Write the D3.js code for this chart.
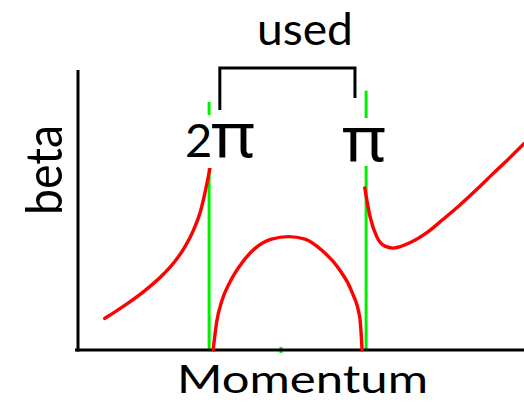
<!DOCTYPE html>
<html>
<head>
<meta charset="utf-8">
<script src="https://cdn.jsdelivr.net/npm/d3@7"></script>
<style>
html,body{margin:0;padding:0;background:#fff;}
svg{display:block;}
</style>
</head>
<body>
<svg id="chart" width="524" height="404"></svg>
<script>
// ---- data (momentum, beta), arbitrary units 0..100 ----
const leftBranch = [
  [6.0,11.3],[8.3,13.6],[11.3,16.8],[15.0,21.2],[18.8,26.5],[21.7,31.6],
  [24.0,36.9],[25.9,42.8],[27.4,49.2],[28.5,56.4],[29.6,65.0]
];
const middleArch = [
  [30.3,0],[31.1,10.1],[32.2,17.3],[34.1,24.4],[36.7,31.0],[39.7,36.3],
  [43.4,39.6],[47.2,40.5],[50.9,39.6],[54.6,35.7],[58.4,29.2],[61.4,20.8],
  [63.2,11.3],[63.7,0]
];
const rightBranch = [
  [64.3,57.9],[65.5,47.5],[67.0,40.4],[68.8,37.1],[70.6,36.4],[74.4,38.3],
  [78.3,42.0],[81.8,46.6],[85.7,51.9],[89.5,57.5],[93.0,62.9],[96.9,68.8],[100,73.7]
];
// vertical resonance markers: momentum position and top (beta units)
const markerX = [29.4, 64.6];
const markerTop = [88.6, 92.6];
const markerLabels = ["2π", "π"];
const centerTickX = 45.5;
// "used" bracket (momentum range and leg bottoms in beta units)
const bracketX = [31.8, 62.1];
const bracketBottom = [85.7, 90.0];
const bracketTop = 100.7;
const xTitle = "Momentum", yTitle = "beta", bracketTitle = "used";

// ---- scales ----
const svg = d3.select("#chart");
const x = d3.scaleLinear().domain([0,100]).range([78,524]);
const y = d3.scaleLinear().domain([0,100]).range([350,70]);

const line = d3.line().x(d=>x(d[0])).y(d=>y(d[1])).curve(d3.curveMonotoneX);

// green markers
markerX.forEach((mx,i)=>{
  svg.append("line").attr("x1",x(mx)).attr("x2",x(mx))
    .attr("y1",y(markerTop[i])).attr("y2",y(0))
    .attr("stroke","#00f000").attr("stroke-width",3);
});
svg.append("line").attr("x1",x(centerTickX)).attr("x2",x(centerTickX))
  .attr("y1",y(0)-3).attr("y2",y(0)+3)
  .attr("stroke","#00f000").attr("stroke-width",3);

// axes
svg.append("line").attr("x1",x(0)).attr("x2",x(0)).attr("y1",y(100)).attr("y2",y(0)+1.5)
  .attr("stroke","#000").attr("stroke-width",3);
svg.append("line").attr("x1",x(0)-3).attr("x2",x(100)).attr("y1",y(0)).attr("y2",y(0))
  .attr("stroke","#000").attr("stroke-width",3);

// red curves
[leftBranch, middleArch, rightBranch].forEach(d=>{
  svg.append("path").attr("d",line(d)).attr("fill","none")
    .attr("stroke","#ff0000").attr("stroke-width",3.4).attr("stroke-linecap","round");
});

// labels with white backgrounds (break the green lines)
const labelDefs = [
  {twoX:185, piX:211, base:157, gapTop:115, gapBot:168},
  {twoX:null, piX:342, base:161, gapTop:118, gapBot:166}
];
labelDefs.forEach((L,i)=>{
  const g = svg.append("g");
  const rect = g.append("rect").attr("fill","#fff");
  let x0 = L.piX;
  if (markerLabels[i].startsWith("2")) {
    g.append("text").attr("x",L.twoX).attr("y",L.base)
      .attr("font-family","Lato, 'DejaVu Sans', sans-serif").attr("font-size",47)
      .attr("fill","#000").text("2");
    x0 = L.twoX;
  }
  g.append("text").attr("x",L.piX).attr("y",L.base)
    .attr("font-family","'Noto Sans', sans-serif").attr("font-size",62)
    .attr("textLength",44).attr("lengthAdjust","spacingAndGlyphs")
    .attr("fill","#000").text("π");
  rect.attr("x",x0-2).attr("y",L.gapTop).attr("width",L.piX+46-x0).attr("height",L.gapBot-L.gapTop);
});

// bracket
svg.append("path")
  .attr("d",`M${x(bracketX[0])},${y(bracketBottom[0])}V${y(bracketTop)}H${x(bracketX[1])}V${y(bracketBottom[1])}`)
  .attr("fill","none").attr("stroke","#000").attr("stroke-width",3);

// titles
svg.append("text").attr("x",257).attr("y",45)
  .attr("font-family","Lato, sans-serif").attr("font-size",45)
  .attr("textLength",96).attr("lengthAdjust","spacingAndGlyphs")
  .attr("fill","#000").text(bracketTitle);

svg.append("text").attr("x",177).attr("y",393)
  .attr("font-family","Lato, sans-serif").attr("font-size",39)
  .attr("textLength",251).attr("lengthAdjust","spacingAndGlyphs")
  .attr("fill","#000").text(xTitle);

svg.append("text").attr("transform","translate(62,215) rotate(-90)")
  .attr("font-family","Lato, sans-serif").attr("font-size",50)
  .attr("textLength",90).attr("lengthAdjust","spacingAndGlyphs")
  .attr("fill","#000").text(yTitle);
</script>
</body>
</html>
